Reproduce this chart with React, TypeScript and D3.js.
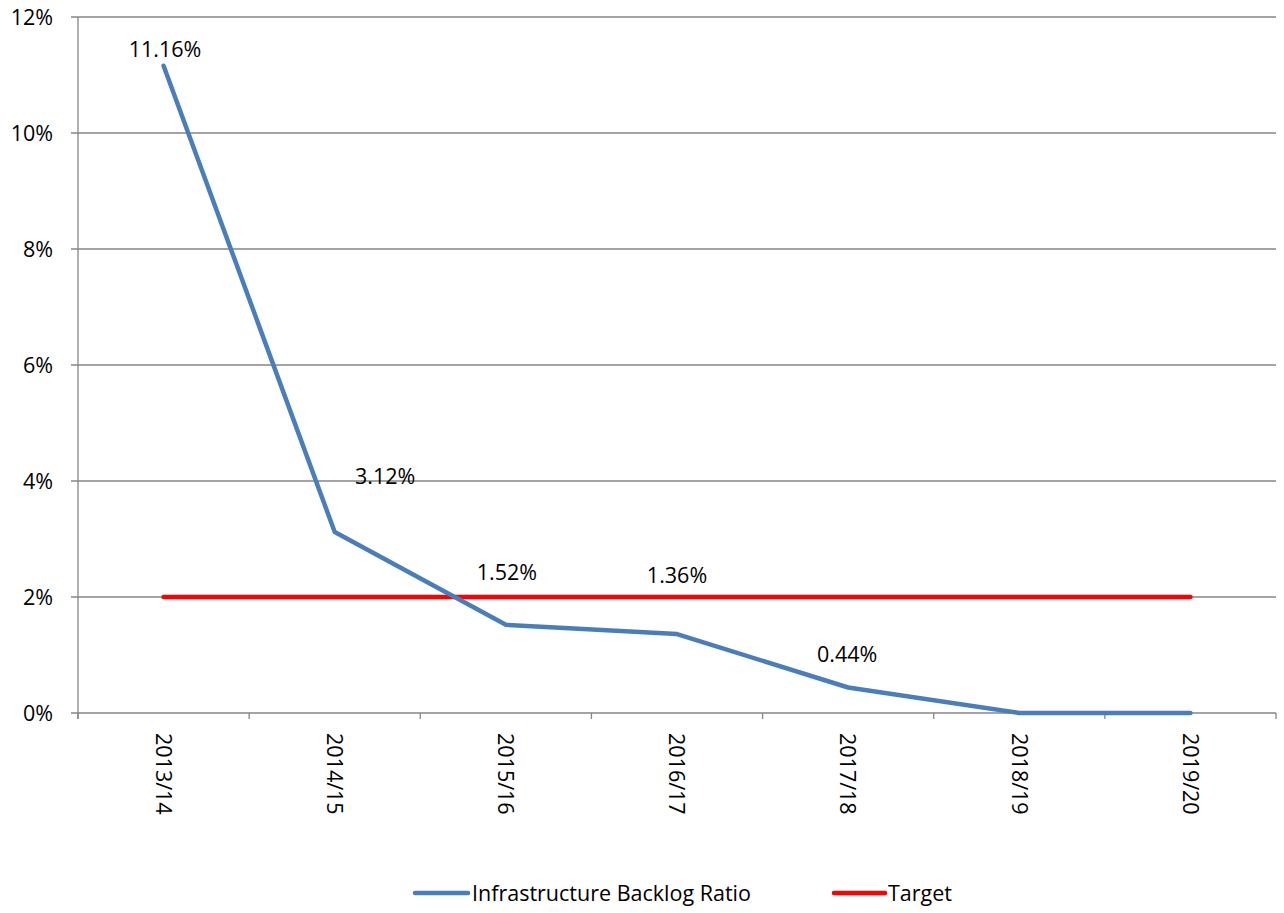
import * as d3 from 'd3';

const categories = ['2013/14', '2014/15', '2015/16', '2016/17', '2017/18', '2018/19', '2019/20'];
const backlogRatio = [11.16, 3.12, 1.52, 1.36, 0.44, 0, 0];
const target = [2, 2, 2, 2, 2, 2, 2];
const yTicks = [0, 2, 4, 6, 8, 10, 12];
const labelShown = [true, true, true, true, true, false, false];

// label offsets relative to the point (label placement in the original is hand-tuned)
const labelOffset: [number, number][] = [
  [1.5, -9],
  [50.5, -48],
  [1, -45],
  [0, -51],
  [-1, -25.5],
  [0, 0],
  [0, 0],
];

const W = 1284;
const H = 913;
const margin = { left: 78, right: 8, top: 17, bottom: 200 };
const font = '"Open Sans", sans-serif';
const fs = 21.5;

export default function App() {
  const x = d3
    .scaleBand<string>()
    .domain(categories)
    .range([margin.left, W - margin.right]);
  const y = d3
    .scaleLinear()
    .domain([0, 12])
    .range([H - margin.bottom, margin.top]);

  const cx = (c: string) => (x(c) ?? 0) + x.bandwidth() / 2;

  const line = d3
    .line<number>()
    .x((_, i) => cx(categories[i]))
    .y(d => y(d));

  const x0 = margin.left;
  const x1 = W - margin.right;
  const y0 = y(0);
  const edges = categories.map(c => x(c) ?? 0).concat([x1]);

  return (
    <svg width={W} height={H} style={{ display: 'block', position: 'absolute', left: 0, top: 0 }} fontFamily={font}>
      <rect width={W} height={H} fill="#fff" />
      {yTicks.map(t => (
        <g key={t}>
          <line x1={x0 - 7} x2={x1} y1={y(t)} y2={y(t)} stroke="#868686" strokeWidth={1.3} />
          <text x={x0 - 25} y={y(t)} dy="0.36em" textAnchor="end" fontSize={fs} fill="#000">
            {t}%
          </text>
        </g>
      ))}
      <line x1={x0} x2={x0} y1={margin.top} y2={y0 + 6} stroke="#868686" strokeWidth={1.3} />
      {edges.map((e, i) => (
        <line key={i} x1={e} x2={e} y1={y0} y2={y0 + 6} stroke="#868686" strokeWidth={1.3} />
      ))}
      {categories.map(c => (
        <text
          key={c}
          transform={`translate(${cx(c)},${y0 + 20}) rotate(90)`}
          dy="0.36em"
          textAnchor="start"
          fontSize={fs}
          fill="#000"
        >
          {c}
        </text>
      ))}
      <path d={line(target) ?? ''} fill="none" stroke="#ff0000" strokeWidth={4.5} strokeLinecap="round" />
      <path
        d={line(backlogRatio) ?? ''}
        fill="none"
        stroke="#4a7ebb"
        strokeWidth={4.5}
        strokeLinecap="round"
        strokeLinejoin="round"
      />
      {backlogRatio.map((v, i) =>
        labelShown[i] ? (
          <text
            key={i}
            x={cx(categories[i]) + labelOffset[i][0]}
            y={y(v) + labelOffset[i][1]}
            textAnchor="middle"
            fontSize={fs}
            fill="#000"
          >
            {v.toFixed(2)}%
          </text>
        ) : null
      )}
      <g transform={`translate(0,893)`}>
        <line x1={415} x2={468} y1={0} y2={0} stroke="#4a7ebb" strokeWidth={4.5} strokeLinecap="round" />
        <text x={472} y={0} dy="0.36em" fontSize={fs} fill="#000">
          Infrastructure Backlog Ratio
        </text>
        <line x1={834} x2={885} y1={0} y2={0} stroke="#ff0000" strokeWidth={4.5} strokeLinecap="round" />
        <text x={888} y={0} dy="0.36em" fontSize={fs} fill="#000">
          Target
        </text>
      </g>
    </svg>
  );
}
